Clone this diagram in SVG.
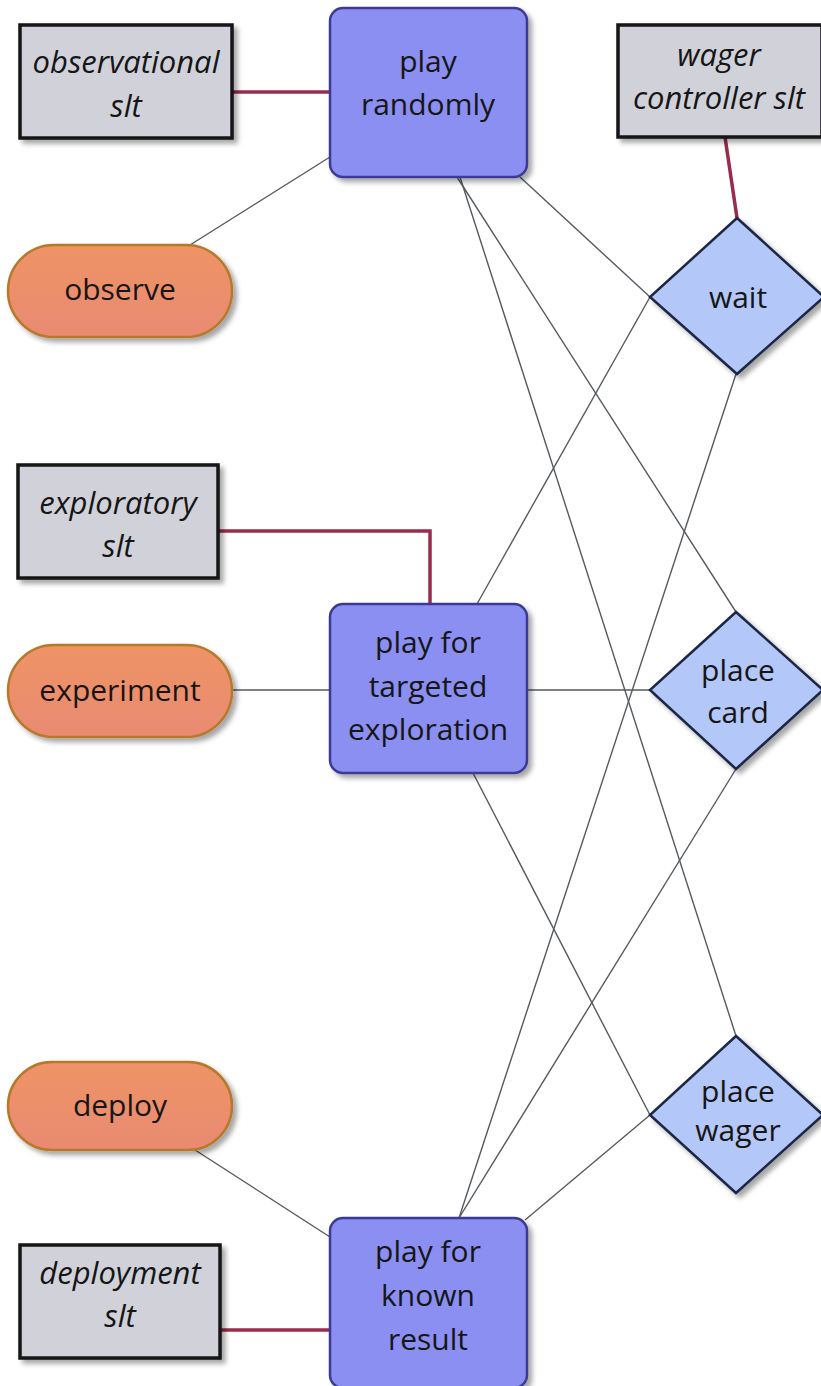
<svg xmlns="http://www.w3.org/2000/svg" width="821" height="1386" viewBox="0 0 821 1386">
  <defs>
    <filter id="shadow" x="-10%" y="-10%" width="125%" height="125%">
      <feDropShadow dx="4" dy="4" stdDeviation="2.5" flood-color="#000" flood-opacity="0.35"/>
    </filter>
    <linearGradient id="pillFill" x1="0" y1="0" x2="0" y2="1">
      <stop offset="0" stop-color="#ee9466"/>
      <stop offset="1" stop-color="#e98a72"/>
    </linearGradient>
    <style>
      .slt { fill: #d1d2d9; stroke: #151515; stroke-width: 3.5; filter: url(#shadow); }
      .play { fill: #8a8ff1; stroke: #3b3a96; stroke-width: 2.5; filter: url(#shadow); }
      .pill { fill: url(#pillFill); stroke: #b8782c; stroke-width: 2.5; filter: url(#shadow); }
      .act { fill: #b3c7f9; stroke: #1d2745; stroke-width: 2.5; filter: url(#shadow); }
      .lbl { font-family: "Open Sans", "Noto Sans", sans-serif; font-size: 30px; fill: #161616; text-anchor: middle; }
      .it { font-style: italic; font-size: 31px; }
      .link { stroke: #555a60; stroke-width: 1.4; fill: none; }
      .tie { stroke: #9a2b4c; stroke-width: 3.5; fill: none; }
    </style>
  </defs>

  <!-- connectors -->
  <g id="connectors">
    <line class="link" x1="457" y1="177" x2="736" y2="612"/>
    <line class="link" x1="460" y1="177" x2="736" y2="1036"/>
    <line class="link" x1="520" y1="177" x2="650" y2="297"/>
    <line class="link" x1="477" y1="604" x2="650" y2="297"/>
    <line class="link" x1="528" y1="690" x2="650" y2="690"/>
    <line class="link" x1="473" y1="773" x2="650" y2="1115"/>
    <line class="link" x1="459" y1="1218" x2="736" y2="374"/>
    <line class="link" x1="459" y1="1218" x2="736" y2="769"/>
    <line class="link" x1="525" y1="1220" x2="650" y2="1115"/>
    <line class="link" x1="190" y1="245" x2="330" y2="157"/>
    <line class="link" x1="232" y1="690" x2="330" y2="690"/>
    <line class="link" x1="192" y1="1148" x2="330" y2="1237"/>
    <line class="tie" x1="232" y1="92" x2="330" y2="92"/>
    <line class="tie" x1="725" y1="137" x2="737" y2="218"/>
    <polyline class="tie" points="218,531 430,531 430,604"/>
    <line class="tie" x1="220" y1="1330" x2="330" y2="1330"/>
  </g>

  <!-- situation-level tasks -->
  <g id="observational-slt">
    <rect class="slt" x="20" y="25" width="212" height="113"/>
    <text class="lbl it" x="126" y="73">observational</text>
    <text class="lbl it" x="126" y="117">slt</text>
  </g>
  <g id="wager-controller-slt">
    <rect class="slt" x="618" y="25" width="204" height="112"/>
    <text class="lbl it" x="719" y="66">wager</text>
    <text class="lbl it" x="719" y="109">controller slt</text>
  </g>
  <g id="exploratory-slt">
    <rect class="slt" x="18" y="465" width="200" height="113"/>
    <text class="lbl it" x="118" y="514">exploratory</text>
    <text class="lbl it" x="118" y="557">slt</text>
  </g>
  <g id="deployment-slt">
    <rect class="slt" x="20" y="1245" width="200" height="113"/>
    <text class="lbl it" x="120" y="1284">deployment</text>
    <text class="lbl it" x="120" y="1327">slt</text>
  </g>

  <!-- play modes -->
  <g id="play-randomly">
    <rect class="play" x="330" y="8" width="197" height="169" rx="13"/>
    <text class="lbl" x="428" y="72">play</text>
    <text class="lbl" x="428" y="115">randomly</text>
  </g>
  <g id="play-targeted">
    <rect class="play" x="330" y="604" width="197" height="169" rx="13"/>
    <text class="lbl" x="428" y="653">play for</text>
    <text class="lbl" x="428" y="697">targeted</text>
    <text class="lbl" x="428" y="740">exploration</text>
  </g>
  <g id="play-known">
    <rect class="play" x="330" y="1218" width="197" height="170" rx="13"/>
    <text class="lbl" x="428" y="1262">play for</text>
    <text class="lbl" x="428" y="1306">known</text>
    <text class="lbl" x="428" y="1350">result</text>
  </g>

  <!-- activities -->
  <g id="observe">
    <rect class="pill" x="8" y="245" width="224" height="92" rx="46"/>
    <text class="lbl" x="120" y="300">observe</text>
  </g>
  <g id="experiment">
    <rect class="pill" x="8" y="645" width="224" height="92" rx="46"/>
    <text class="lbl" x="120" y="701">experiment</text>
  </g>
  <g id="deploy">
    <rect class="pill" x="8" y="1062" width="224" height="88" rx="44"/>
    <text class="lbl" x="120" y="1116">deploy</text>
  </g>

  <!-- game actions -->
  <g id="wait">
    <polygon class="act" points="737,218 824,297 737,374 650,297"/>
    <text class="lbl" x="738" y="308">wait</text>
  </g>
  <g id="place-card">
    <polygon class="act" points="736,612 823,690 736,769 650,690"/>
    <text class="lbl" x="738" y="681">place</text>
    <text class="lbl" x="738" y="723">card</text>
  </g>
  <g id="place-wager">
    <polygon class="act" points="736,1036 823,1115 736,1193 650,1115"/>
    <text class="lbl" x="738" y="1102">place</text>
    <text class="lbl" x="738" y="1141">wager</text>
  </g>
</svg>
